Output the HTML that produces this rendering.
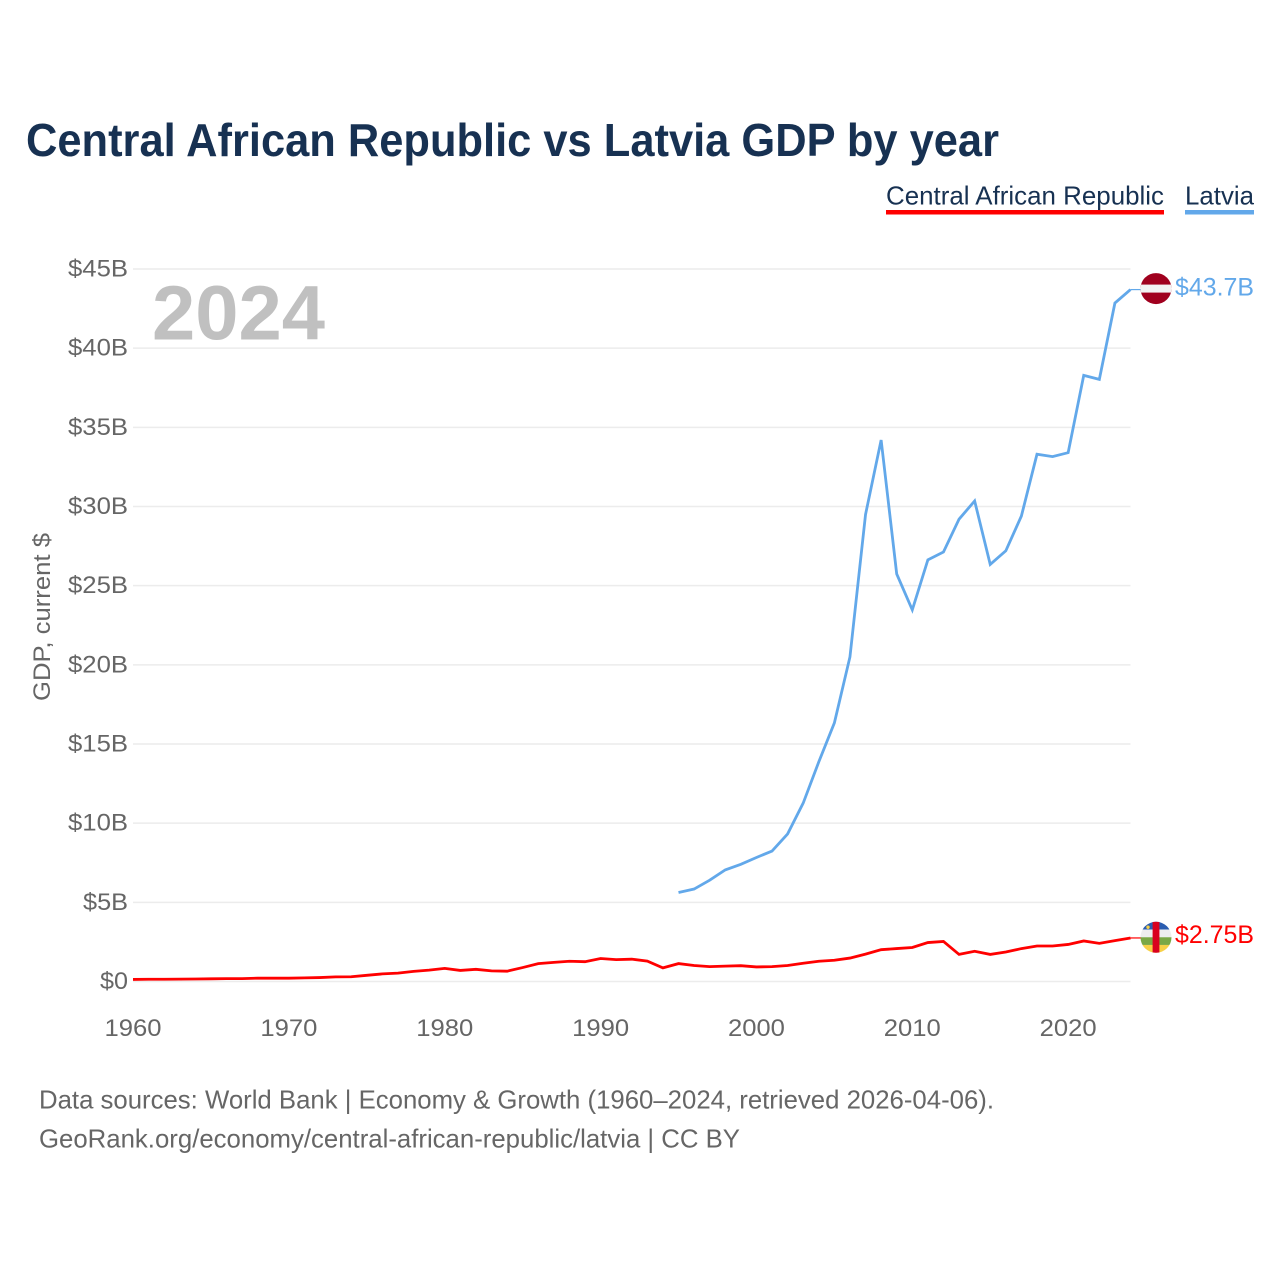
<!DOCTYPE html>
<html lang="en">
<head>
<meta charset="utf-8">
<title>Central African Republic vs Latvia GDP by year</title>
<style>
  html, body { margin: 0; padding: 0; background: #fff; }
  svg { display: block; font-family: "Liberation Sans", sans-serif; }
</style>
</head>
<body>
<svg id="chart" xmlns="http://www.w3.org/2000/svg" width="1280" height="1280" viewBox="0 0 1280 1280">
  <defs>
    <clipPath id="flag-clip"><circle cx="0" cy="0" r="15.5"></circle></clipPath>
  </defs>
  <rect x="0" y="0" width="1280" height="1280" fill="#ffffff"></rect>

  <text x="26" y="156" font-size="46" font-weight="700" fill="#173152" textLength="973" lengthAdjust="spacingAndGlyphs">Central African Republic vs Latvia GDP by year</text>

  <g>
    <g>
      <text x="886" y="204.5" font-size="26" fill="#173152" textLength="278" lengthAdjust="spacingAndGlyphs">Central African Republic</text>
      <rect x="886" y="210" width="278" height="4.5" fill="#ff0000"></rect>
    </g>
    <g>
      <text x="1185" y="204.5" font-size="26" fill="#173152" textLength="69" lengthAdjust="spacingAndGlyphs">Latvia</text>
      <rect x="1185" y="210" width="69" height="4.5" fill="#62a8ea"></rect>
    </g>
  </g>

  <g id="grid"></g>
  <g id="y-axis"></g>
  <g id="x-axis"></g>

  <text transform="translate(50,701) rotate(-90)" font-size="24.5" fill="#666666" textLength="168" lengthAdjust="spacingAndGlyphs">GDP, current $</text>

  <text x="152" y="339.5" font-size="77" font-weight="700" fill="#c0c0c0" textLength="173" lengthAdjust="spacingAndGlyphs">2024</text>

  <g id="series"></g>

  <g id="flag-latvia">
    <g clip-path="url(#flag-clip)">
      <rect x="-16" y="-16" width="32" height="32" fill="#a0001e"></rect>
      <rect x="-16" y="-4" width="32" height="8" fill="#f2f2f2"></rect>
    </g>
  </g>
  <g id="flag-car">
    <g clip-path="url(#flag-clip)">
      <rect x="-16" y="-16" width="32" height="8.3" fill="#2a5db0"></rect>
      <rect x="-16" y="-7.7" width="32" height="7.7" fill="#eeeeee"></rect>
      <rect x="-16" y="0" width="32" height="7.7" fill="#7aa845"></rect>
      <rect x="-16" y="7.7" width="32" height="8.3" fill="#f7d046"></rect>
      <rect x="-3.4" y="-16" width="6.8" height="32" fill="#d9001e"></rect>
      <circle cx="-8" cy="-10" r="1.7" fill="#f7d046"></circle>
    </g>
  </g>

  <text id="value-latvia" x="1254" y="296" font-size="25" fill="#62a8ea" text-anchor="end" textLength="79" lengthAdjust="spacingAndGlyphs"></text>
  <text id="value-car" x="1254" y="943" font-size="25" fill="#ff0000" text-anchor="end" textLength="79" lengthAdjust="spacingAndGlyphs"></text>

  <text x="39" y="1108.5" font-size="26" fill="#666666" textLength="955" lengthAdjust="spacingAndGlyphs">Data sources: World Bank | Economy &amp; Growth (1960–2024, retrieved 2026-04-06).</text>
  <a>
    <text x="39" y="1147.5" font-size="26" fill="#666666" textLength="701" lengthAdjust="spacingAndGlyphs">GeoRank.org/economy/central-african-republic/latvia | CC BY</text>
  </a>
</svg>

<script>
const carStartYear = 1960;
const latviaStartYear = 1995;
const carValues = [
  0.13, 0.14, 0.14, 0.15, 0.16, 0.17, 0.18, 0.18, 0.21, 0.21,
  0.21, 0.23, 0.25, 0.29, 0.30, 0.39, 0.48, 0.53, 0.64, 0.72,
  0.83, 0.70, 0.77, 0.67, 0.65, 0.88, 1.13, 1.21, 1.28, 1.25,
  1.45, 1.38, 1.41, 1.29, 0.86, 1.13, 1.01, 0.94, 0.97, 1.00,
  0.92, 0.94, 1.01, 1.15, 1.28, 1.34, 1.48, 1.73, 2.01, 2.08,
  2.15, 2.46, 2.53, 1.71, 1.91, 1.71, 1.86, 2.08, 2.24, 2.24,
  2.34, 2.56, 2.41, 2.58, 2.75
];
const latviaValues = [
  5.62, 5.84, 6.40, 7.05, 7.40, 7.83, 8.24, 9.32, 11.27, 13.87,
  16.33, 20.50, 29.50, 34.20, 25.74, 23.47, 26.63, 27.13, 29.20, 30.35,
  26.34, 27.20, 29.40, 33.30, 33.15, 33.40, 38.28, 38.03, 42.85, 43.70
];
const yTicks = [0, 5, 10, 15, 20, 25, 30, 35, 40, 45];
const xTicks = [1960, 1970, 1980, 1990, 2000, 2010, 2020];

const SVG_NS = 'http://www.w3.org/2000/svg';
const xMin = 1960, xMax = 2024, xLeft = 133, xRight = 1130.5;
const yMin = 0, yMax = 45, yBottom = 981.5, yTop = 269;
function xScale(year) { return xLeft + (year - xMin) / (xMax - xMin) * (xRight - xLeft); }
function yScale(v) { return yBottom - (v - yMin) / (yMax - yMin) * (yBottom - yTop); }

const gridGroup = document.getElementById('grid');
const yAxisGroup = document.getElementById('y-axis');
const xAxisGroup = document.getElementById('x-axis');
const seriesGroup = document.getElementById('series');

yTicks.forEach(function (t) {
  const line = document.createElementNS(SVG_NS, 'line');
  
  
  line.setAttribute('x1', xLeft);
  line.setAttribute('x2', xRight);
  line.setAttribute('y1', yScale(t));
  line.setAttribute('y2', yScale(t));
  line.setAttribute('stroke', '#ececec');
  line.setAttribute('stroke-width', '1.5');
  gridGroup.appendChild(line);

  const label = document.createElementNS(SVG_NS, 'text');
  
  
  label.setAttribute('x', 128);
  label.setAttribute('y', yScale(t) + 7.5);
  label.setAttribute('font-size', '24');
  label.setAttribute('fill', '#666666');
  label.setAttribute('text-anchor', 'end');
  label.textContent = '$' + t + (t === 0 ? '' : 'B');
  const labelWidth = t === 0 ? 28 : (t < 10 ? 45 : 60);
  label.setAttribute('textLength', labelWidth);
  label.setAttribute('lengthAdjust', 'spacingAndGlyphs');
  yAxisGroup.appendChild(label);
});

xTicks.forEach(function (t) {
  const label = document.createElementNS(SVG_NS, 'text');
  
  
  label.setAttribute('x', xScale(t));
  label.setAttribute('y', 1036);
  label.setAttribute('font-size', '24');
  label.setAttribute('fill', '#666666');
  label.setAttribute('text-anchor', 'middle');
  label.setAttribute('textLength', 57);
  label.setAttribute('lengthAdjust', 'spacingAndGlyphs');
  label.textContent = t;
  xAxisGroup.appendChild(label);
});

function seriesPoints(values, startYear) {
  return values.map(function (v, i) {
    return xScale(startYear + i).toFixed(2) + ',' + yScale(v).toFixed(2);
  }).join(' ');
}

const latviaLine = document.createElementNS(SVG_NS, 'polyline');


latviaLine.setAttribute('points', seriesPoints(latviaValues, latviaStartYear));
latviaLine.setAttribute('fill', 'none');
latviaLine.setAttribute('stroke', '#62a8ea');
latviaLine.setAttribute('stroke-width', '2.8');
latviaLine.setAttribute('stroke-linejoin', 'miter');
seriesGroup.appendChild(latviaLine);

const carLine = document.createElementNS(SVG_NS, 'polyline');


carLine.setAttribute('points', seriesPoints(carValues, carStartYear));
carLine.setAttribute('fill', 'none');
carLine.setAttribute('stroke', '#ff0000');
carLine.setAttribute('stroke-width', '2.8');
carLine.setAttribute('stroke-linejoin', 'miter');
seriesGroup.appendChild(carLine);

const latviaLast = latviaValues[latviaValues.length - 1];
const carLast = carValues[carValues.length - 1];

const latviaLeader = document.createElementNS(SVG_NS, 'line');


latviaLeader.setAttribute('x1', xRight);
latviaLeader.setAttribute('x2', xRight + 11);
latviaLeader.setAttribute('y1', yScale(latviaLast));
latviaLeader.setAttribute('y2', yScale(latviaLast));
latviaLeader.setAttribute('stroke', '#62a8ea');
latviaLeader.setAttribute('stroke-width', '1.2');
seriesGroup.appendChild(latviaLeader);

const carLeader = document.createElementNS(SVG_NS, 'line');


carLeader.setAttribute('x1', xRight);
carLeader.setAttribute('x2', xRight + 11);
carLeader.setAttribute('y1', yScale(carLast));
carLeader.setAttribute('y2', yScale(carLast));
carLeader.setAttribute('stroke', '#ff0000');
carLeader.setAttribute('stroke-width', '1.2');
seriesGroup.appendChild(carLeader);

document.getElementById('flag-latvia').setAttribute('transform', 'translate(1156,' + (yScale(latviaLast) - 1) + ')');
document.getElementById('flag-car').setAttribute('transform', 'translate(1156,' + (yScale(carLast) - 0.7) + ')');

const latviaValue = document.getElementById('value-latvia');
latviaValue.textContent = '$' + latviaLast.toPrecision(3) + 'B';
latviaValue.setAttribute('y', yScale(latviaLast) + 6);
const carValue = document.getElementById('value-car');
carValue.textContent = '$' + carLast.toPrecision(3) + 'B';
carValue.setAttribute('y', yScale(carLast) + 5);
</script>
</body>
</html>
